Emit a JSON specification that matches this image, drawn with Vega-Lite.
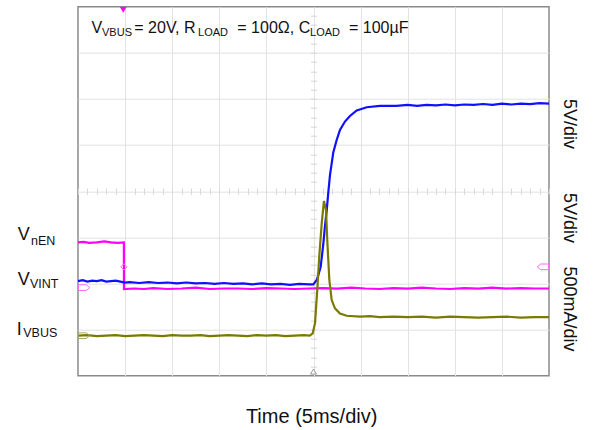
{
  "$schema": "https://vega.github.io/schema/vega-lite/v6.json",
  "width": 471,
  "height": 369,
  "autosize": {"type": "none"},
  "padding": {"left": 78, "top": 6.7, "right": 46, "bottom": 54.3},
  "background": "white",
  "config": {
    "view": {"stroke": "#8a8a8a", "strokeWidth": 1.5},
    "font": "Liberation Sans",
    "text": {"font": "Liberation Sans", "color": "#111111"}
  },
  "datasets": {
    "traces": [
      {"s": "nEN", "t": 0, "v": 2.89}, {"s": "nEN", "t": 0.6, "v": 2.9}, {"s": "nEN", "t": 1.2, "v": 2.88}, {"s": "nEN", "t": 2, "v": 2.89}, {"s": "nEN", "t": 2.8, "v": 2.91}, {"s": "nEN", "t": 3.5, "v": 2.89}, {"s": "nEN", "t": 4.2, "v": 2.88}, {"s": "nEN", "t": 4.87, "v": 2.89},
      {"s": "nEN", "t": 4.88, "v": 1.88}, {"s": "nEN", "t": 6, "v": 1.89}, {"s": "nEN", "t": 7, "v": 1.88}, {"s": "nEN", "t": 8, "v": 1.9}, {"s": "nEN", "t": 9.5, "v": 1.88}, {"s": "nEN", "t": 11, "v": 1.89}, {"s": "nEN", "t": 12.5, "v": 1.91}, {"s": "nEN", "t": 14, "v": 1.88}, {"s": "nEN", "t": 15.5, "v": 1.89}, {"s": "nEN", "t": 17, "v": 1.89}, {"s": "nEN", "t": 18.5, "v": 1.88}, {"s": "nEN", "t": 20, "v": 1.9}, {"s": "nEN", "t": 21.5, "v": 1.89}, {"s": "nEN", "t": 23, "v": 1.88}, {"s": "nEN", "t": 24.5, "v": 1.89}, {"s": "nEN", "t": 26, "v": 1.9}, {"s": "nEN", "t": 27.5, "v": 1.89}, {"s": "nEN", "t": 29, "v": 1.91}, {"s": "nEN", "t": 30.5, "v": 1.89}, {"s": "nEN", "t": 32, "v": 1.88}, {"s": "nEN", "t": 33.5, "v": 1.9}, {"s": "nEN", "t": 35, "v": 1.89}, {"s": "nEN", "t": 36.5, "v": 1.91}, {"s": "nEN", "t": 38, "v": 1.89}, {"s": "nEN", "t": 39.5, "v": 1.88}, {"s": "nEN", "t": 41, "v": 1.9}, {"s": "nEN", "t": 42.5, "v": 1.89}, {"s": "nEN", "t": 44, "v": 1.91}, {"s": "nEN", "t": 45.5, "v": 1.89}, {"s": "nEN", "t": 47, "v": 1.9}, {"s": "nEN", "t": 48.5, "v": 1.89}, {"s": "nEN", "t": 50, "v": 1.89},
      {"s": "VINT", "t": 0, "v": 2.05}, {"s": "VINT", "t": 0.5, "v": 2.07}, {"s": "VINT", "t": 1, "v": 2.04}, {"s": "VINT", "t": 1.5, "v": 2.06}, {"s": "VINT", "t": 2, "v": 2.05}, {"s": "VINT", "t": 2.5, "v": 2.07}, {"s": "VINT", "t": 3, "v": 2.04}, {"s": "VINT", "t": 3.5, "v": 2.05}, {"s": "VINT", "t": 4, "v": 2.06}, {"s": "VINT", "t": 4.5, "v": 2.04}, {"s": "VINT", "t": 5, "v": 2.02}, {"s": "VINT", "t": 5.5, "v": 2.03}, {"s": "VINT", "t": 6.5, "v": 2.01}, {"s": "VINT", "t": 7.5, "v": 2.03}, {"s": "VINT", "t": 8.5, "v": 2.01}, {"s": "VINT", "t": 9.5, "v": 2.02}, {"s": "VINT", "t": 10.5, "v": 2.0}, {"s": "VINT", "t": 11.5, "v": 2.02}, {"s": "VINT", "t": 12.5, "v": 2.0}, {"s": "VINT", "t": 13.5, "v": 2.01}, {"s": "VINT", "t": 14.5, "v": 1.99}, {"s": "VINT", "t": 15.5, "v": 2.01}, {"s": "VINT", "t": 16.5, "v": 1.99}, {"s": "VINT", "t": 17.5, "v": 2.0}, {"s": "VINT", "t": 18.5, "v": 1.98}, {"s": "VINT", "t": 19.5, "v": 2.0}, {"s": "VINT", "t": 20.5, "v": 1.98}, {"s": "VINT", "t": 21.5, "v": 1.99}, {"s": "VINT", "t": 22.5, "v": 1.97}, {"s": "VINT", "t": 23.5, "v": 1.99}, {"s": "VINT", "t": 24.5, "v": 1.98}, {"s": "VINT", "t": 24.98, "v": 1.98},
      {"s": "VINT", "t": 25.34, "v": 2.075}, {"s": "VINT", "t": 25.51, "v": 2.18}, {"s": "VINT", "t": 25.76, "v": 2.36}, {"s": "VINT", "t": 26.04, "v": 2.85}, {"s": "VINT", "t": 26.22, "v": 3.25}, {"s": "VINT", "t": 26.4, "v": 3.58}, {"s": "VINT", "t": 26.57, "v": 3.97}, {"s": "VINT", "t": 26.75, "v": 4.35}, {"s": "VINT", "t": 27.1, "v": 4.84}, {"s": "VINT", "t": 27.46, "v": 5.11}, {"s": "VINT", "t": 27.81, "v": 5.33}, {"s": "VINT", "t": 28.34, "v": 5.51}, {"s": "VINT", "t": 28.87, "v": 5.63}, {"s": "VINT", "t": 29.59, "v": 5.75}, {"s": "VINT", "t": 30.65, "v": 5.82}, {"s": "VINT", "t": 32.06, "v": 5.85}, {"s": "VINT", "t": 33.8, "v": 5.85}, {"s": "VINT", "t": 35, "v": 5.87}, {"s": "VINT", "t": 36, "v": 5.85}, {"s": "VINT", "t": 37, "v": 5.87}, {"s": "VINT", "t": 38, "v": 5.86}, {"s": "VINT", "t": 39, "v": 5.88}, {"s": "VINT", "t": 40, "v": 5.86}, {"s": "VINT", "t": 41, "v": 5.88}, {"s": "VINT", "t": 42, "v": 5.87}, {"s": "VINT", "t": 43, "v": 5.89}, {"s": "VINT", "t": 44, "v": 5.87}, {"s": "VINT", "t": 45, "v": 5.9}, {"s": "VINT", "t": 46, "v": 5.88}, {"s": "VINT", "t": 47, "v": 5.9}, {"s": "VINT", "t": 48, "v": 5.89}, {"s": "VINT", "t": 49, "v": 5.91}, {"s": "VINT", "t": 50, "v": 5.9},
      {"s": "IVBUS", "t": 0, "v": 0.87}, {"s": "IVBUS", "t": 1, "v": 0.88}, {"s": "IVBUS", "t": 2, "v": 0.86}, {"s": "IVBUS", "t": 3, "v": 0.87}, {"s": "IVBUS", "t": 4, "v": 0.88}, {"s": "IVBUS", "t": 5, "v": 0.86}, {"s": "IVBUS", "t": 6, "v": 0.87}, {"s": "IVBUS", "t": 7, "v": 0.88}, {"s": "IVBUS", "t": 8, "v": 0.87}, {"s": "IVBUS", "t": 9, "v": 0.86}, {"s": "IVBUS", "t": 10, "v": 0.88}, {"s": "IVBUS", "t": 11, "v": 0.87}, {"s": "IVBUS", "t": 12, "v": 0.87}, {"s": "IVBUS", "t": 13, "v": 0.88}, {"s": "IVBUS", "t": 14, "v": 0.86}, {"s": "IVBUS", "t": 15, "v": 0.87}, {"s": "IVBUS", "t": 16, "v": 0.88}, {"s": "IVBUS", "t": 17, "v": 0.87}, {"s": "IVBUS", "t": 18, "v": 0.86}, {"s": "IVBUS", "t": 19, "v": 0.88}, {"s": "IVBUS", "t": 20, "v": 0.87}, {"s": "IVBUS", "t": 21, "v": 0.88}, {"s": "IVBUS", "t": 22, "v": 0.86}, {"s": "IVBUS", "t": 23, "v": 0.87}, {"s": "IVBUS", "t": 24, "v": 0.88}, {"s": "IVBUS", "t": 24.6, "v": 0.87},
      {"s": "IVBUS", "t": 24.92, "v": 0.92}, {"s": "IVBUS", "t": 25.16, "v": 1.14}, {"s": "IVBUS", "t": 25.4, "v": 1.86}, {"s": "IVBUS", "t": 25.61, "v": 2.58}, {"s": "IVBUS", "t": 25.87, "v": 3.3}, {"s": "IVBUS", "t": 26.11, "v": 3.79}, {"s": "IVBUS", "t": 26.33, "v": 3.59}, {"s": "IVBUS", "t": 26.46, "v": 2.94}, {"s": "IVBUS", "t": 26.68, "v": 2.08}, {"s": "IVBUS", "t": 26.93, "v": 1.64}, {"s": "IVBUS", "t": 27.28, "v": 1.46}, {"s": "IVBUS", "t": 27.81, "v": 1.35}, {"s": "IVBUS", "t": 28.52, "v": 1.3}, {"s": "IVBUS", "t": 29.94, "v": 1.28}, {"s": "IVBUS", "t": 31, "v": 1.29}, {"s": "IVBUS", "t": 32, "v": 1.27}, {"s": "IVBUS", "t": 33.5, "v": 1.28}, {"s": "IVBUS", "t": 35, "v": 1.27}, {"s": "IVBUS", "t": 36.5, "v": 1.28}, {"s": "IVBUS", "t": 38, "v": 1.26}, {"s": "IVBUS", "t": 39.5, "v": 1.28}, {"s": "IVBUS", "t": 41, "v": 1.27}, {"s": "IVBUS", "t": 42.5, "v": 1.26}, {"s": "IVBUS", "t": 44, "v": 1.27}, {"s": "IVBUS", "t": 45.5, "v": 1.28}, {"s": "IVBUS", "t": 47, "v": 1.26}, {"s": "IVBUS", "t": 48.5, "v": 1.27}, {"s": "IVBUS", "t": 50, "v": 1.27}
    ]
  },
  "resolve": {"axis": {"x": "independent", "y": "independent"}},
  "layer": [
    {
      "data": {"name": "traces"},
      "mark": {"type": "line", "strokeWidth": 2.2, "interpolate": "linear"},
      "encoding": {
        "x": {"field": "t", "type": "quantitative", "scale": {"domain": [0, 50], "nice": false, "zero": false},
          "axis": {"orient": "bottom", "values": [5, 10, 15, 20, 25, 30, 35, 40, 45], "grid": true, "gridColor": "#e3e3e3", "gridWidth": 1, "domain": false, "ticks": false, "labels": false, "title": null}},
        "y": {"field": "v", "type": "quantitative", "scale": {"domain": [0, 8], "nice": false, "zero": false},
          "axis": {"orient": "left", "values": [1, 2, 3, 4, 5, 6, 7], "grid": true, "gridColor": "#e3e3e3", "gridWidth": 1, "domain": false, "ticks": false, "labels": false, "title": null}},
        "color": {"field": "s", "type": "nominal", "scale": {"domain": ["nEN", "VINT", "IVBUS"], "range": ["#ff00ff", "#1010ff", "#7a7a00"]}, "legend": null},
        "order": {"value": null}
      }
    },
    {
      "data": {"values": [{"t": 4.8, "v": 7.93}]},
      "mark": {"type": "point", "shape": "triangle-down", "filled": true, "color": "#ff00ff", "size": 45, "opacity": 1},
      "encoding": {
        "x": {"field": "t", "type": "quantitative", "scale": {"domain": [0, 50], "nice": false, "zero": false},
          "axis": {"orient": "bottom", "offset": -184.5, "values": [0, 1, 2, 3, 4, 5, 6, 7, 8, 9, 10, 11, 12, 13, 14, 15, 16, 17, 18, 19, 20, 21, 22, 23, 24, 26, 27, 28, 29, 30, 31, 32, 33, 34, 35, 36, 37, 38, 39, 40, 41, 42, 43, 44, 45, 46, 47, 48, 49, 50], "tickSize": 3, "tickColor": "#d6d6d6", "grid": false, "domain": false, "labels": false, "title": null}},
        "y": {"field": "v", "type": "quantitative", "scale": {"domain": [0, 8], "nice": false, "zero": false},
          "axis": {"orient": "left", "offset": -235.5, "values": [0.2, 0.4, 0.6, 0.8, 1, 1.2, 1.4, 1.6, 1.8, 2, 2.2, 2.4, 2.6, 2.8, 3, 3.2, 3.4, 3.6, 3.8, 4.2, 4.4, 4.6, 4.8, 5, 5.2, 5.4, 5.6, 5.8, 6, 6.2, 6.4, 6.6, 6.8, 7, 7.2, 7.4, 7.6, 7.8], "tickSize": 3, "tickColor": "#d6d6d6", "grid": false, "domain": false, "labels": false, "title": null}}
      }
    },
    {
      "data": {"values": [{"t": 25, "v": 0.09}]},
      "mark": {"type": "point", "shape": "triangle-up", "filled": false, "color": "#999999", "strokeWidth": 1, "size": 35, "opacity": 1},
      "encoding": {
        "x": {"field": "t", "type": "quantitative", "scale": {"domain": [0, 50], "nice": false, "zero": false},
          "axis": {"orient": "top", "offset": -184.5, "values": [0, 1, 2, 3, 4, 5, 6, 7, 8, 9, 10, 11, 12, 13, 14, 15, 16, 17, 18, 19, 20, 21, 22, 23, 24, 26, 27, 28, 29, 30, 31, 32, 33, 34, 35, 36, 37, 38, 39, 40, 41, 42, 43, 44, 45, 46, 47, 48, 49, 50], "tickSize": 3, "tickColor": "#d6d6d6", "grid": false, "domain": false, "labels": false, "title": null}},
        "y": {"field": "v", "type": "quantitative", "scale": {"domain": [0, 8], "nice": false, "zero": false},
          "axis": {"orient": "right", "offset": -235.5, "values": [0.2, 0.4, 0.6, 0.8, 1, 1.2, 1.4, 1.6, 1.8, 2, 2.2, 2.4, 2.6, 2.8, 3, 3.2, 3.4, 3.6, 3.8, 4.2, 4.4, 4.6, 4.8, 5, 5.2, 5.4, 5.6, 5.8, 6, 6.2, 6.4, 6.6, 6.8, 7, 7.2, 7.4, 7.6, 7.8], "tickSize": 3, "tickColor": "#d6d6d6", "grid": false, "domain": false, "labels": false, "title": null}}
      }
    },
    {
      "data": {"values": [{"t": 4.88, "v": 2.36}]},
      "mark": {"type": "point", "shape": "diamond", "filled": false, "color": "#ff66ff", "strokeWidth": 1, "size": 40, "opacity": 1},
      "encoding": {
        "x": {"field": "t", "type": "quantitative", "scale": {"domain": [0, 50], "nice": false, "zero": false}, "axis": null},
        "y": {"field": "v", "type": "quantitative", "scale": {"domain": [0, 8], "nice": false, "zero": false}, "axis": null}
      }
    },
    {
      "data": {"values": [{"t": 49.36, "v": 2.36}]},
      "mark": {"type": "point", "shape": "M1,-0.5L-0.4,-0.5L-1,0L-0.4,0.5L1,0.5Z", "filled": false, "color": "#ff66ff", "strokeWidth": 1, "size": 130, "opacity": 1},
      "encoding": {
        "x": {"field": "t", "type": "quantitative", "scale": {"domain": [0, 50], "nice": false, "zero": false}, "axis": null},
        "y": {"field": "v", "type": "quantitative", "scale": {"domain": [0, 8], "nice": false, "zero": false}, "axis": null}
      }
    },
    {
      "data": {"values": [{"t": 0.64, "v": 1.91}]},
      "mark": {"type": "point", "shape": "M-1,-0.5L0.4,-0.5L1,0L0.4,0.5L-1,0.5Z", "filled": false, "color": "#ff66ff", "strokeWidth": 1, "size": 130, "opacity": 1},
      "encoding": {
        "x": {"field": "t", "type": "quantitative", "scale": {"domain": [0, 50], "nice": false, "zero": false}, "axis": null},
        "y": {"field": "v", "type": "quantitative", "scale": {"domain": [0, 8], "nice": false, "zero": false}, "axis": null}
      }
    },
    {
      "data": {"values": [{"t": 0.64, "v": 0.867}]},
      "mark": {"type": "point", "shape": "M-1,-0.5L0.4,-0.5L1,0L0.4,0.5L-1,0.5Z", "filled": false, "color": "#a8a860", "strokeWidth": 1, "size": 130, "opacity": 1},
      "encoding": {
        "x": {"field": "t", "type": "quantitative", "scale": {"domain": [0, 50], "nice": false, "zero": false}, "axis": null},
        "y": {"field": "v", "type": "quantitative", "scale": {"domain": [0, 8], "nice": false, "zero": false}, "axis": null}
      }
    },
    {
      "data": {"values": [
        {"t": 1.44, "v": 7.423, "label": "V"},
        {"t": 5.98, "v": 7.423, "label": "= 20V, R"},
        {"t": 16.91, "v": 7.423, "label": "= 100Ω, C"},
        {"t": 28.77, "v": 7.423, "label": "= 100µF"}
      ]},
      "mark": {"type": "text", "fontSize": 16, "align": "left", "baseline": "alphabetic"},
      "encoding": {
        "x": {"field": "t", "type": "quantitative", "scale": {"domain": [0, 50], "nice": false, "zero": false}, "axis": null},
        "y": {"field": "v", "type": "quantitative", "scale": {"domain": [0, 8], "nice": false, "zero": false}, "axis": null},
        "text": {"field": "label"}
      }
    },
    {
      "data": {"values": [
        {"t": 2.55, "v": 7.371, "label": "VBUS"},
        {"t": 12.74, "v": 7.371, "label": "LOAD"},
        {"t": 24.63, "v": 7.371, "label": "LOAD"}
      ]},
      "mark": {"type": "text", "fontSize": 11, "align": "left", "baseline": "alphabetic"},
      "encoding": {
        "x": {"field": "t", "type": "quantitative", "scale": {"domain": [0, 50], "nice": false, "zero": false}, "axis": null},
        "y": {"field": "v", "type": "quantitative", "scale": {"domain": [0, 8], "nice": false, "zero": false}, "axis": null},
        "text": {"field": "label"}
      }
    },
    {
      "data": {"values": [
        {"t": -6.4, "v": 2.942, "label": "V"},
        {"t": -6.4, "v": 1.966, "label": "V"},
        {"t": -6.51, "v": 0.882, "label": "I"}
      ]},
      "mark": {"type": "text", "fontSize": 18, "align": "left", "baseline": "alphabetic"},
      "encoding": {
        "x": {"field": "t", "type": "quantitative", "scale": {"domain": [0, 50], "nice": false, "zero": false}, "axis": null},
        "y": {"field": "v", "type": "quantitative", "scale": {"domain": [0, 8], "nice": false, "zero": false}, "axis": null},
        "text": {"field": "label"}
      }
    },
    {
      "data": {"values": [
        {"t": -4.99, "v": 2.834, "label": "nEN"},
        {"t": -5.1, "v": 1.895, "label": "VINT"},
        {"t": -5.81, "v": 0.833, "label": "VBUS"}
      ]},
      "mark": {"type": "text", "fontSize": 12.5, "align": "left", "baseline": "alphabetic"},
      "encoding": {
        "x": {"field": "t", "type": "quantitative", "scale": {"domain": [0, 50], "nice": false, "zero": false}, "axis": null},
        "y": {"field": "v", "type": "quantitative", "scale": {"domain": [0, 8], "nice": false, "zero": false}, "axis": null},
        "text": {"field": "label"}
      }
    },
    {
      "data": {"values": [
        {"t": 51.59, "v": 5.457, "label": "5V/div"},
        {"t": 51.59, "v": 3.419, "label": "5V/div"},
        {"t": 51.59, "v": 1.446, "label": "500mA/div"}
      ]},
      "mark": {"type": "text", "fontSize": 18, "align": "center", "baseline": "alphabetic", "angle": 90},
      "encoding": {
        "x": {"field": "t", "type": "quantitative", "scale": {"domain": [0, 50], "nice": false, "zero": false}, "axis": null},
        "y": {"field": "v", "type": "quantitative", "scale": {"domain": [0, 8], "nice": false, "zero": false}, "axis": null},
        "text": {"field": "label"}
      }
    },
    {
      "data": {"values": [
        {"t": 24.8, "v": -1.025, "label": "Time (5ms/div)"}
      ]},
      "mark": {"type": "text", "fontSize": 20, "align": "center", "baseline": "alphabetic"},
      "encoding": {
        "x": {"field": "t", "type": "quantitative", "scale": {"domain": [0, 50], "nice": false, "zero": false}, "axis": null},
        "y": {"field": "v", "type": "quantitative", "scale": {"domain": [0, 8], "nice": false, "zero": false}, "axis": null},
        "text": {"field": "label"}
      }
    }
  ]
}
